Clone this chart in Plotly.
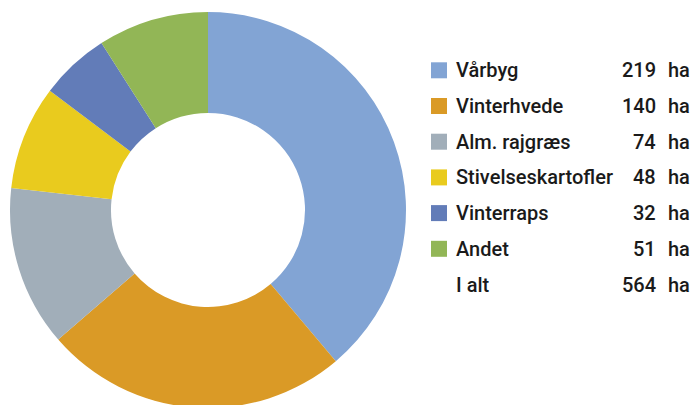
import plotly.graph_objects as go

categories = ["Vårbyg", "Vinterhvede", "Alm. rajgræs", "Stivelseskartofler", "Vinterraps", "Andet"]
values = [219, 140, 74, 48, 32, 51]
colors = ["#82a4d4", "#da9a26", "#a1aeb9", "#e9cb1e", "#627cb8", "#92b656"]
total_label = "I alt"
unit = "ha"

# Figure a bit taller than the window: the ring is cut at the bottom like in the reference.
W, H = 691, 415


def px(X):
    return X / W


def py(Y):
    return 1 - Y / H


cx, cy, r = 208, 210, 198
fig = go.Figure(go.Pie(
    labels=categories,
    values=values,
    marker=dict(colors=colors, line=dict(width=0)),
    hole=0.49,
    sort=False,
    direction="clockwise",
    rotation=0,
    textinfo="none",
    hoverinfo="label+value",
    domain=dict(x=[px(cx - r), px(cx + r)], y=[py(cy + r), py(cy - r)]),
    showlegend=False,
))

font = dict(family="Roboto", size=20, color="#1a1a1a", weight=500)
row_y0 = 70.3
row_dy = 35.7
shapes = []
annotations = []
rows = list(zip(categories, values, colors)) + [(total_label, sum(values), None)]
for i, (lab, val, col) in enumerate(rows):
    Y = row_y0 + i * row_dy
    if col is not None:
        shapes.append(dict(type="rect", xref="paper", yref="paper",
                           x0=px(431), x1=px(447), y0=py(Y + 8), y1=py(Y - 8),
                           fillcolor=col, line=dict(width=0)))
    annotations.append(dict(text=lab, x=px(454), y=py(Y), xref="paper", yref="paper",
                            xanchor="left", yanchor="middle", showarrow=False, font=font))
    annotations.append(dict(text=str(val), x=px(658), y=py(Y), xref="paper", yref="paper",
                            xanchor="right", yanchor="middle", showarrow=False, font=font))
    annotations.append(dict(text=unit, x=px(666), y=py(Y), xref="paper", yref="paper",
                            xanchor="left", yanchor="middle", showarrow=False, font=font))

fig.update_layout(
    width=W, height=H,
    margin=dict(l=0, r=0, t=0, b=0),
    paper_bgcolor="white", plot_bgcolor="white",
    shapes=shapes, annotations=annotations,
)

fig.write_html(
    "out.html",
    config={"displayModeBar": False},
    post_script="document.body.style.margin='0';document.body.style.overflow='hidden';",
)
